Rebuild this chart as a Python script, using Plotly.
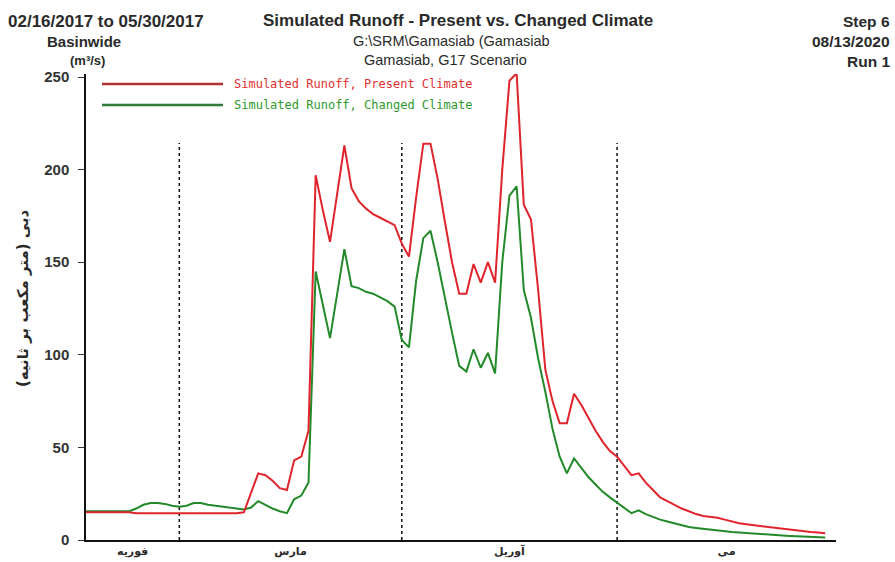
import pandas as pd
import plotly.graph_objects as go

# ---------------- data ----------------
start_date = "2017-02-16"
n_days = 104
present_climate = [
    15, 15, 15, 15, 15, 15, 15,
    14.5, 14.5, 14.5, 14.5, 14.5, 14.5, 14.5, 14.5, 14.5, 14.5, 14.5, 14.5, 14.5, 14.5, 14.5,
    15, 25, 36, 35, 32, 28, 27, 43, 45, 59,
    197, 178, 161, 187, 213, 190, 183, 179, 176, 174, 172, 170,
    160, 153, 185, 214, 214, 195, 172, 150, 133, 133, 149, 139, 150, 139,
    200, 248, 252, 181, 173, 135, 92, 75, 63, 63, 79, 73, 66, 59, 53, 48,
    45, 40, 35, 36, 31, 27, 23, 21, 19, 17, 15.5, 14, 13, 12.5, 12, 11, 10,
    9, 8.5, 8, 7.5, 7, 6.5, 6, 5.5, 5, 4.7, 4.3, 4, 3.7,
]
changed_climate = [
    15.5, 15.5, 15.5, 15.5, 15.5, 15.5, 15.5,
    17, 19, 20, 20, 19.5, 18.5, 18, 18.5, 20, 20, 19, 18.5, 18, 17.5, 17,
    16.5, 17.5, 21, 19, 17, 15.5, 14.5, 22, 24, 31,
    145, 127, 109, 133, 157, 137, 136, 134, 133, 131, 129, 126,
    108, 104, 140, 163, 167, 150, 130, 112, 94, 91, 103, 93, 101, 90,
    150, 186, 191, 135, 120, 98, 80, 60, 45, 36, 44, 39, 34, 30, 26, 23,
    20, 17, 14.5, 16, 14, 12.5, 11, 10, 9, 8, 7, 6.5, 6, 5.5, 5, 4.6,
    4.3, 4, 3.7, 3.4, 3.1, 2.8, 2.6, 2.4, 2.2, 2, 1.8, 1.6, 1.5, 1.4,
]
month_boundaries = ["2017-03-01", "2017-04-01", "2017-05-01"]
month_label_dates = ["2017-02-22 12:00", "2017-03-16 12:00", "2017-04-16", "2017-05-16 06:00"]
month_labels = ["فوریه", "مارس", "آوریل", "می"]
y_ticks = [0, 50, 100, 150, 200, 250]
series_names = ["Simulated Runoff, Present Climate", "Simulated Runoff, Changed Climate"]

dates = pd.date_range(start_date, periods=n_days, freq="D")

RED = "#e0242c"
GREEN = "#238a2a"

# ---------------- figure ----------------
W, H = 895, 562
ML, MR, MT, MB = 86, 59, 74, 22
PW, PH = W - ML - MR, H - MT - MB


def px(x):
    return (x - ML) / PW


def py(y):
    return (H - MB - y) / PH


fig = go.Figure()
fig.add_trace(go.Scatter(x=dates, y=changed_climate, mode="lines", name=series_names[1],
                         line=dict(color=GREEN, width=2)))
fig.add_trace(go.Scatter(x=dates, y=present_climate, mode="lines", name=series_names[0],
                         line=dict(color=RED, width=2)))

shapes = []
for d in month_boundaries:
    shapes.append(dict(type="line", xref="x", yref="paper", x0=d, x1=d, y0=0, y1=py(143),
                       line=dict(color="#111", width=1.5, dash="3px,3px"), layer="below"))
# legend samples
shapes.append(dict(type="line", xref="paper", yref="paper", x0=px(102), x1=px(223), y0=py(84), y1=py(84),
                   line=dict(color="#b03434", width=2.5)))
shapes.append(dict(type="line", xref="paper", yref="paper", x0=px(102), x1=px(223), y0=py(105), y1=py(105),
                   line=dict(color="#2f7a3a", width=2.5)))

HF = "Liberation Sans, Arial, sans-serif"
TXT = "#2a2a2a"
ann = []


def add(text, x, y, size, bold=True, xanchor="center", color=TXT, family=HF, angle=0):
    ann.append(dict(text=text, xref="paper", yref="paper", x=px(x), y=py(y), xanchor=xanchor,
                    yanchor="middle", showarrow=False, textangle=angle,
                    font=dict(family=family, size=size, color=color, weight="bold" if bold else "normal")))


add("02/16/2017 to 05/30/2017", 105.5, 21, 17)
add("Basinwide", 83.5, 42, 15)
add("(m³/s)", 87, 60.5, 13)
add("Simulated Runoff - Present vs. Changed Climate", 457.5, 20.5, 17)
add("G:\\SRM\\Gamasiab (Gamasiab", 451.5, 41, 14.5, bold=False)
add("Gamasiab, G17 Scenario", 445, 60, 14.5, bold=False)
add("Step 6", 892, 22, 15.5, xanchor="right")
add("08/13/2020", 892, 42, 15.5, xanchor="right")
add("Run 1", 892, 62, 15.5, xanchor="right")
add(series_names[0], 232, 84, 12, bold=False, xanchor="left", color="#e03030", family="DejaVu Sans Mono")
add(series_names[1], 232, 105, 12, bold=False, xanchor="left", color="#2e9a2e", family="DejaVu Sans Mono")
add("دبی (متر مکعب بر ثانیه)", 23, 298, 15, family="DejaVu Sans", angle=-90)

fig.update_layout(
    width=W, height=H,
    margin=dict(l=ML, r=MR, t=MT, b=MB),
    paper_bgcolor="white", plot_bgcolor="white",
    showlegend=False,
    shapes=shapes, annotations=ann,
    xaxis=dict(
        range=["2017-02-16", "2017-05-31 12:00"],
        tickmode="array", tickvals=month_label_dates, ticktext=month_labels,
        ticks="", showgrid=False, zeroline=False, automargin=False,
        showline=True, linecolor="#111", linewidth=1.5,
        tickfont=dict(family="DejaVu Sans", size=11, color=TXT, weight="bold"),
    ),
    yaxis=dict(
        range=[0, PH / 1.852],
        tickmode="array", tickvals=y_ticks,
        ticks="outside", ticklen=6, tickcolor="#333", ticklabelstandoff=6,
        showgrid=False, zeroline=False, automargin=False,
        showline=True, linecolor="#111", linewidth=1.5,
        tickfont=dict(family=HF, size=15, color="#333", weight="bold"),
    ),
)

fig.write_html("out.html", config={"displayModeBar": False},
               post_script="document.body.style.margin='0';document.body.style.overflow='hidden';")
